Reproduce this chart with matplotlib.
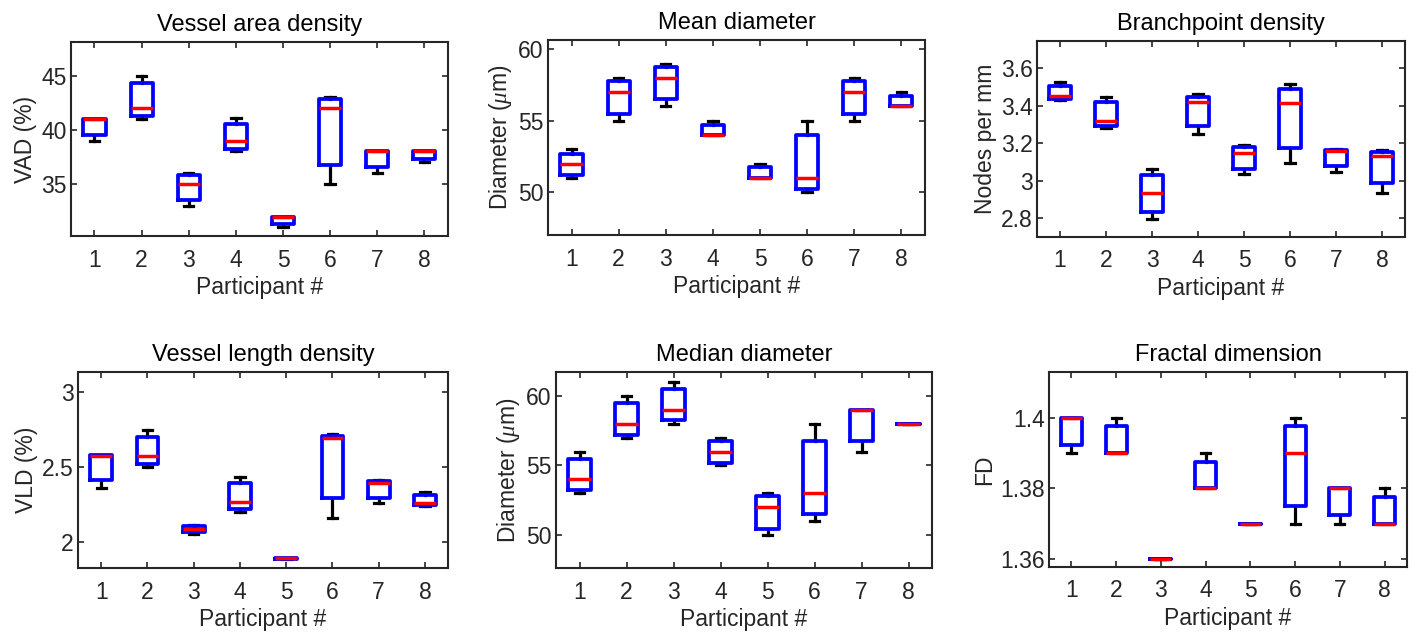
import numpy as np
import matplotlib
matplotlib.use("Agg")
import matplotlib.pyplot as plt
from matplotlib.ticker import FormatStrFormatter

plt.rcParams['font.family'] = ['Liberation Sans', 'DejaVu Sans']
plt.rcParams['mathtext.fontset'] = 'custom'
plt.rcParams['mathtext.it'] = 'Liberation Serif:italic'

participants = [1, 2, 3, 4, 5, 6, 7, 8]

# each row: whisker low, q1, median, q3, whisker high
vad = [[39.0, 39.5, 41.0, 41.0, 41.0],
       [41.0, 41.3, 42.0, 44.3, 45.0],
       [33.0, 33.5, 35.0, 35.8, 36.0],
       [38.0, 38.2, 39.0, 40.5, 41.1],
       [31.0, 31.3, 32.0, 32.0, 32.0],
       [35.0, 36.8, 42.0, 42.8, 43.0],
       [36.0, 36.6, 38.0, 38.0, 38.0],
       [37.0, 37.3, 38.0, 38.0, 38.0]]

mean_diam = [[51.0, 51.2, 52.0, 52.7, 53.0],
             [55.0, 55.5, 57.0, 57.8, 58.0],
             [56.0, 56.5, 58.0, 58.75, 59.0],
             [54.0, 54.0, 54.0, 54.7, 55.0],
             [51.0, 51.0, 51.0, 51.75, 52.0],
             [50.0, 50.2, 51.0, 54.0, 55.0],
             [55.0, 55.5, 57.0, 57.8, 58.0],
             [56.0, 56.0, 56.0, 56.7, 57.0]]

branch = [[3.431, 3.436, 3.454, 3.506, 3.529],
          [3.280, 3.292, 3.321, 3.419, 3.449],
          [2.796, 2.832, 2.933, 3.031, 3.065],
          [3.250, 3.294, 3.422, 3.449, 3.461],
          [3.036, 3.061, 3.147, 3.182, 3.191],
          [3.093, 3.177, 3.417, 3.488, 3.515],
          [3.049, 3.079, 3.157, 3.164, 3.172],
          [2.937, 2.988, 3.134, 3.156, 3.166]]

vld = [[2.356, 2.411, 2.571, 2.578, 2.580],
       [2.500, 2.516, 2.571, 2.700, 2.744],
       [2.053, 2.067, 2.087, 2.102, 2.109],
       [2.196, 2.216, 2.267, 2.389, 2.433],
       [1.886, 1.887, 1.889, 1.893, 1.894],
       [2.156, 2.293, 2.693, 2.704, 2.716],
       [2.256, 2.293, 2.391, 2.404, 2.409],
       [2.238, 2.242, 2.256, 2.311, 2.329]]

median_diam = [[53.0, 53.2, 54.0, 55.5, 56.0],
               [57.0, 57.2, 58.0, 59.5, 60.0],
               [58.0, 58.25, 59.0, 60.5, 61.0],
               [55.0, 55.2, 56.0, 56.8, 57.0],
               [50.0, 50.4, 52.0, 52.8, 53.0],
               [51.0, 51.5, 53.0, 56.75, 58.0],
               [56.0, 56.75, 59.0, 59.0, 59.0],
               [58.0, 58.0, 58.0, 58.0, 58.0]]

fd = [[1.390, 1.3923, 1.400, 1.400, 1.400],
      [1.390, 1.390, 1.390, 1.3976, 1.400],
      [1.360, 1.360, 1.360, 1.360, 1.360],
      [1.380, 1.380, 1.380, 1.3875, 1.390],
      [1.370, 1.370, 1.370, 1.370, 1.370],
      [1.370, 1.3749, 1.390, 1.3976, 1.400],
      [1.370, 1.3724, 1.380, 1.380, 1.380],
      [1.370, 1.370, 1.370, 1.3776, 1.380]]

panels = [
    (vad, "Vessel area density", "VAD (%)", (30.2, 48.1), [35, 40, 45]),
    (mean_diam, "Mean diameter", r"Diameter ($\mu$m)", (47.0, 60.65), [50, 55, 60]),
    (branch, "Branchpoint density", "Nodes per mm", (2.70, 3.746), [2.8, 3.0, 3.2, 3.4, 3.6]),
    (vld, "Vessel length density", "VLD (%)", (1.825, 3.13), [2.0, 2.5, 3.0]),
    (median_diam, "Median diameter", r"Diameter ($\mu$m)", (47.6, 61.75), [50, 55, 60]),
    (fd, "Fractal dimension", "FD", (1.3577, 1.413), [1.36, 1.38, 1.40]),
]

# axes rectangles in figure fraction
rects = [[0.0502, 0.6283, 0.2668, 0.3055],
         [0.3878, 0.6299, 0.2668, 0.3071],
         [0.7339, 0.6268, 0.2604, 0.3087],
         [0.0552, 0.1055, 0.2619, 0.3087],
         [0.3935, 0.1055, 0.2661, 0.3087],
         [0.7424, 0.1071, 0.2534, 0.3071]]

dark = '#262626'
fs = 16.5
fig = plt.figure(figsize=(14.13, 6.35), dpi=100)

for (data, title, ylabel, ylim, yticks), rect in zip(panels, rects):
    ax = fig.add_axes(rect)
    stats = []
    for p, row in zip(participants, data):
        lo, q1, med, q3, hi = row
        stats.append(dict(whislo=lo, q1=q1, med=med, q3=q3, whishi=hi,
                          fliers=[], label=str(p)))
    ax.bxp(stats, positions=participants, widths=0.47, showfliers=False,
           capwidths=0.2,
           boxprops=dict(color='#0000ff', linewidth=2.7, zorder=3),
           medianprops=dict(color='#ff0000', linewidth=2.5, zorder=4),
           whiskerprops=dict(color='black', linewidth=2.3, zorder=2),
           capprops=dict(color='black', linewidth=2.3, zorder=2))
    ax.set_xlim(0.5, 8.5)
    ax.set_ylim(*ylim)
    ax.set_xticks(participants)
    ax.set_xticklabels([str(p) for p in participants])
    ax.set_yticks(yticks)
    ax.yaxis.set_major_formatter(FormatStrFormatter('%g'))
    ax.tick_params(direction='in', top=True, right=True, length=4,
                   width=1.2, colors=dark, labelsize=fs)
    ax.tick_params(axis='x', pad=9)
    ax.tick_params(axis='y', pad=3)
    for s in ax.spines.values():
        s.set_linewidth(1.5)
        s.set_color(dark)
    ax.set_title(title, fontsize=fs + 0.5, color='black', pad=8)
    ax.set_xlabel("Participant #", fontsize=fs, color=dark, labelpad=3)
    ax.set_ylabel(ylabel, fontsize=fs, color=dark, labelpad=3)

fig.savefig("out.png", dpi=100)
